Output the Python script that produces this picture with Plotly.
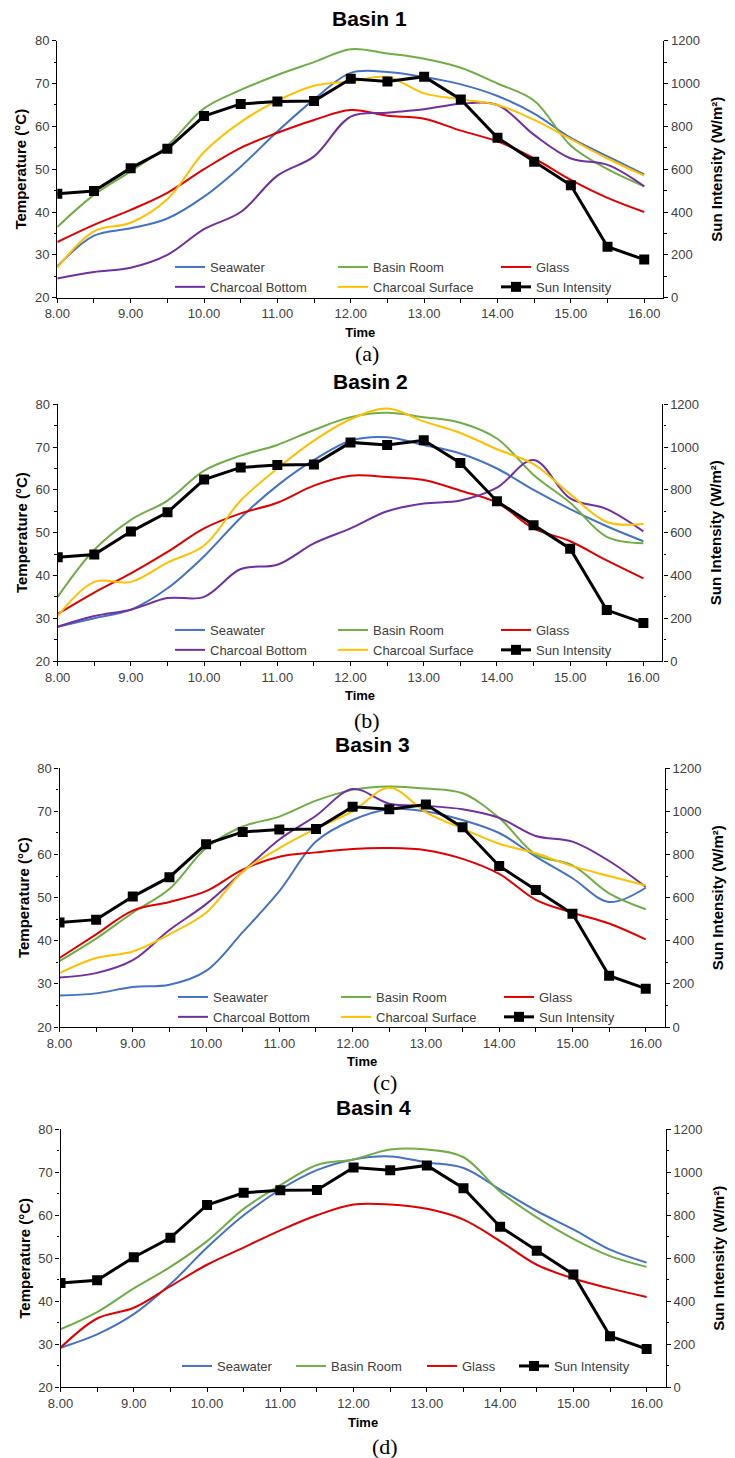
import plotly.graph_objects as go

# ---------------- data ----------------
time = [8.0, 8.5, 9.0, 9.5, 10.0, 10.5, 11.0, 11.5, 12.0, 12.5, 13.0, 13.5, 14.0, 14.5, 15.0, 15.5, 16.0]
sun_intensity = [485, 498, 605, 695, 848, 905, 916, 918, 1022, 1010, 1032, 926, 747, 635, 525, 238, 178]

basin_titles = ["Basin 1", "Basin 2", "Basin 3", "Basin 4"]
panel_labels = ["(a)", "(b)", "(c)", "(d)"]
series_names = ["Seawater", "Basin Room", "Glass", "Charcoal Bottom", "Charcoal Surface"]

b1_seawater = [27.3, 34.5, 36.2, 38.5, 43.6, 50.6, 58.8, 66.3, 72.5, 72.7, 71.5, 69.8, 67.1, 63.0, 57.3, 53.0, 48.8]
b1_basin_room = [36.5, 44.0, 49.5, 55.5, 64.2, 68.5, 72.0, 75.0, 78.0, 77.0, 75.8, 73.7, 70.0, 66.0, 55.5, 50.0, 46.0]
b1_glass = [33.0, 37.0, 40.5, 44.5, 50.0, 55.0, 58.5, 61.5, 63.8, 62.5, 61.8, 59.0, 56.5, 52.5, 47.5, 43.3, 40.0]
b1_charcoal_bottom = [24.5, 26.0, 27.0, 30.0, 36.0, 40.0, 48.5, 53.0, 62.3, 63.2, 64.0, 65.3, 65.0, 58.0, 52.5, 51.0, 46.0]
b1_charcoal_surface = [27.0, 35.5, 37.5, 43.0, 54.0, 61.0, 66.0, 69.5, 70.5, 71.5, 67.7, 66.3, 65.0, 61.5, 57.0, 52.5, 48.5]

b2_seawater = [28.0, 30.0, 32.0, 37.0, 44.5, 53.5, 61.0, 67.0, 71.5, 72.3, 70.5, 68.5, 65.0, 60.0, 55.5, 51.5, 48.0]
b2_basin_room = [35.0, 46.0, 53.0, 57.5, 64.5, 68.0, 70.5, 74.0, 77.0, 78.0, 77.0, 75.7, 72.0, 63.5, 57.0, 49.0, 47.5]
b2_glass = [31.0, 36.0, 40.5, 45.5, 51.0, 54.5, 57.0, 61.0, 63.3, 63.0, 62.3, 59.8, 57.0, 51.0, 48.0, 43.5, 39.3]
b2_charcoal_bottom = [28.0, 30.5, 32.0, 34.7, 35.0, 41.5, 42.5, 47.5, 51.0, 55.0, 56.8, 57.5, 60.5, 67.0, 58.0, 55.5, 50.3]
b2_charcoal_surface = [30.5, 38.5, 38.5, 43.0, 47.0, 57.5, 65.0, 71.5, 76.5, 79.0, 76.0, 73.3, 69.5, 66.0, 59.0, 52.5, 52.0]

b3_seawater = [27.3, 27.8, 29.3, 29.8, 33.0, 42.0, 51.5, 63.0, 68.0, 70.5, 70.0, 68.0, 65.0, 59.5, 54.5, 49.0, 52.3]
b3_basin_room = [35.3, 40.5, 46.5, 52.0, 61.5, 66.5, 68.8, 72.5, 75.0, 75.8, 75.3, 74.2, 68.5, 60.0, 57.5, 51.0, 47.3]
b3_glass = [36.0, 41.5, 47.0, 49.0, 51.5, 56.5, 59.5, 60.5, 61.3, 61.5, 61.0, 59.0, 55.5, 49.5, 46.5, 44.0, 40.3]
b3_charcoal_bottom = [31.5, 32.5, 35.5, 42.5, 48.5, 56.0, 63.5, 69.0, 75.2, 71.8, 71.3, 70.5, 68.5, 64.3, 63.0, 58.5, 52.5]
b3_charcoal_surface = [32.5, 36.0, 37.5, 41.5, 46.5, 56.0, 61.5, 66.0, 70.0, 75.5, 69.8, 66.0, 62.5, 60.3, 57.3, 55.0, 52.8]

b4_seawater = [29.2, 32.3, 37.0, 44.0, 52.5, 60.0, 66.0, 70.5, 73.0, 73.7, 72.3, 71.0, 66.0, 61.0, 56.7, 52.0, 49.0]
b4_basin_room = [33.5, 37.5, 43.0, 48.0, 54.0, 61.5, 67.0, 71.7, 73.0, 75.3, 75.3, 73.5, 65.5, 59.5, 54.5, 50.5, 48.0]
b4_glass = [29.2, 36.0, 38.5, 43.5, 48.5, 52.5, 56.5, 60.0, 62.5, 62.5, 61.5, 59.0, 54.0, 48.5, 45.3, 43.0, 41.0]

basins = [
    [b1_seawater, b1_basin_room, b1_glass, b1_charcoal_bottom, b1_charcoal_surface],
    [b2_seawater, b2_basin_room, b2_glass, b2_charcoal_bottom, b2_charcoal_surface],
    [b3_seawater, b3_basin_room, b3_glass, b3_charcoal_bottom, b3_charcoal_surface],
    [b4_seawater, b4_basin_room, b4_glass],
]

# ---------------- styles ----------------
colors = ["#4472C4", "#70AD47", "#E00000", "#7030A0", "#FFC000"]
OFF = 8                      # page body margin of the html page
W, H = 735 - OFF, 1458 - OFF
ML, MR = 57 - OFF, 69
PW = W - ML - MR
SANS = "Liberation Sans, Arial, sans-serif"
SERIF = "Liberation Serif, Times New Roman, serif"
TICKC = "#404040"

# page-pixel geometry of each panel: (left, right, top, bottom)
panels_px = [
    (57.3, 663.3, 40.7, 297.7),
    (57.7, 662.4, 404.3, 661.0),
    (59.5, 664.8, 768.3, 1027.0),
    (60.5, 665.7, 1129.3, 1387.3),
]
# legends: name -> (left px, top px, entry width or None)
legend_specs = {
    "legend": (170, 252, 118),
    "legend2": (170, 615, 118),
    "legend3": (173, 982, 118),
    "legend4": (177, 1351, 69),
    "legend5": (422, 1351, None),
    "legend6": (514, 1351, None),
}
# which legend each trace of a panel goes to (5 temps + sun)
legend_of = [
    ["legend"] * 6,
    ["legend2"] * 6,
    ["legend3"] * 6,
    ["legend4", "legend4", "legend5", None, None, "legend6"],
]
title_px = [(369, 18), (370, 382), (372, 745), (373, 1107)]
label_px = [(367, 353.5), (367, 720), (385, 1082), (385, 1446)]

def px_x(p):
    return (p - OFF - ML) / PW

def px_y(p):
    return 1 - (p - OFF) / H

fig = go.Figure()
layout = dict(
    width=W, height=H,
    margin=dict(l=ML, r=MR, t=0, b=0, autoexpand=False),
    paper_bgcolor="white", plot_bgcolor="white",
    font=dict(family=SANS, size=13, color=TICKC),
    showlegend=True,
    annotations=[],
)

for i in range(4):
    n = i + 1
    xid = "x" if n == 1 else f"x{n}"
    yl = f"y{2*n-1}" if n > 1 else "y"
    yr = f"y{2*n}"
    xkey = "xaxis" if n == 1 else f"xaxis{n}"
    ylkey = "yaxis" if n == 1 else f"yaxis{2*n-1}"
    yrkey = f"yaxis{2*n}"
    l, r, t, b = panels_px[i]

    for k, vals in enumerate(basins[i]):
        fig.add_trace(go.Scatter(
            x=time, y=vals, name=series_names[k], mode="lines",
            line=dict(color=colors[k], width=2, shape="spline", smoothing=1.0),
            xaxis=xid, yaxis=yl, legend=legend_of[i][k],
        ))
    fig.add_trace(go.Scatter(
        x=time, y=sun_intensity, name="Sun Intensity", mode="lines+markers",
        line=dict(color="black", width=3),
        marker=dict(symbol="square", size=10, color="black"),
        xaxis=xid, yaxis=yr, legend=legend_of[i][5],
    ))

    layout[xkey] = dict(
        domain=[px_x(l), px_x(r)], anchor=yl, range=[8, 16.26],
        tickmode="linear", tick0=8, dtick=1, tickformat=".2f",
        ticks="outside", ticklen=4, tickcolor="black", tickwidth=1,
        minor=dict(dtick=0.5, tick0=8, ticks="outside", ticklen=4, tickcolor="black", tickwidth=1),
        showline=True, linecolor="black", linewidth=1.3, showgrid=False, zeroline=False,
        tickfont=dict(family=SANS, size=13, color=TICKC),
        title=dict(text="Time", font=dict(family=SANS, size=13, color="black", weight="bold"), standoff=7),
        automargin=False,
    )
    layout[ylkey] = dict(
        domain=[px_y(b), px_y(t)], anchor=xid, range=[20, 80],
        tickmode="linear", tick0=20, dtick=10,
        ticks="outside", ticklen=4, tickcolor="black", tickwidth=1,
        minor=dict(dtick=5, tick0=20, ticks="outside", ticklen=2.5, tickcolor="black", tickwidth=1),
        showline=True, linecolor="black", linewidth=1.3, showgrid=False, zeroline=False,
        tickfont=dict(family=SANS, size=13, color=TICKC),
        title=dict(text="Temperature (°C)", font=dict(family=SANS, size=15, color="black", weight="bold"), standoff=4),
        automargin=False,
    )
    layout[yrkey] = dict(
        overlaying=yl, side="right", anchor=xid, range=[0, 1200],
        tickmode="linear", tick0=0, dtick=200,
        ticks="outside", ticklen=4, tickcolor="black", tickwidth=1,
        minor=dict(dtick=100, tick0=0, ticks="outside", ticklen=2.5, tickcolor="black", tickwidth=1),
        showline=True, linecolor="black", linewidth=1.3, showgrid=False, zeroline=False,
        tickfont=dict(family=SANS, size=13, color=TICKC),
        title=dict(text="Sun Intensity (W/m²)", font=dict(family=SANS, size=15, color="black", weight="bold"), standoff=12),
        automargin=False,
    )
    tx, ty = title_px[i]
    layout["annotations"].append(dict(
        text=basin_titles[i], xref="paper", yref="paper",
        x=px_x(tx), y=px_y(ty), xanchor="center", yanchor="middle",
        showarrow=False, font=dict(family=SANS, size=21, color="black", weight="bold"),
    ))
    lbx, lby = label_px[i]
    layout["annotations"].append(dict(
        text=panel_labels[i], xref="paper", yref="paper",
        x=px_x(lbx), y=px_y(lby), xanchor="center", yanchor="middle",
        showarrow=False, font=dict(family=SERIF, size=22, color="black"),
    ))

for lname, (lx, ly, ew) in legend_specs.items():
    spec = dict(
        orientation="h", x=px_x(lx), xanchor="left", y=px_y(ly), yanchor="top",
        font=dict(family=SANS, size=13, color=TICKC),
        bgcolor="rgba(0,0,0,0)", borderwidth=0, itemwidth=30,
        tracegroupgap=0,
    )
    if ew is not None:
        spec["entrywidth"] = ew
        spec["entrywidthmode"] = "pixels"
    layout[lname] = spec

fig.update_layout(**layout)
fig.write_html("out.html")
